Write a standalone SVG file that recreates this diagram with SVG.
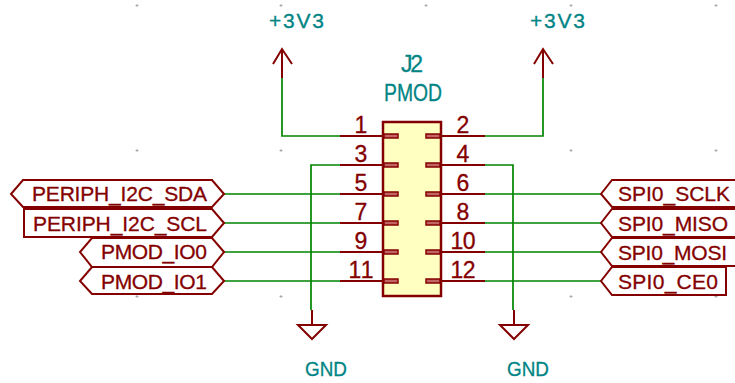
<svg xmlns="http://www.w3.org/2000/svg" width="735" height="383" viewBox="0 0 735 383">
<style>
text{font-family:"Liberation Sans",sans-serif;font-size:21px;stroke-width:.3}
.t{fill:#008484;stroke:#008484}
.n{fill:#840000;stroke:#840000;font-size:23px;text-anchor:middle}
.l{fill:#840000;stroke:#840000;font-size:21px}
.s{fill:none;stroke:#840000;stroke-width:2}
.h{fill:#fff;stroke:#840000;stroke-width:2}
.w{fill:none;stroke:#008400;stroke-width:1.700}
.g{stroke:#aaa;stroke-width:1;fill:none}
</style>
<g id="grid">
<path class="g" d="M135.500 5.500h3M137 4v3M279.500 5.500h3M281 4v3M424.500 5.500h3M426 4v3M569.500 5.500h3M571 4v3M714.500 5.500h3M716 4v3M135.500 150.500h3M137 149v3M279.500 150.500h3M281 149v3M569.500 150.500h3M571 149v3M714.500 150.500h3M716 149v3M135.500 296.500h3M137 295v3M279.500 296.500h3M281 295v3M569.500 296.500h3M571 295v3M714.500 296.500h3M716 295v3"/>
</g>
<g id="connectors">
<path class="w" d="M340 136H282V78M485 136H543V78M340 165H311V310M485 165H513V310"/>
<path class="w" d="M224 194H340M224 223H340M224 252H340M224 281H340M485 194H601M485 223H601M485 252H601M485 281H601"/>
</g>
<g id="J2">
<rect x="383" y="122" width="58" height="174" fill="#ffffc2" stroke="#840000" stroke-width="2.500"/>
<path class="s" d="M340 136H383M340 165H383M340 194H383M340 223H383M340 252H383M340 281H383M441 136H485M441 165H485M441 194H485M441 223H485M441 252H485M441 281H485"/>
<g fill="#c26464" stroke="#840000" stroke-width="1.500">
<rect x="384" y="134" width="14" height="4"/><rect x="384" y="163" width="14" height="4"/><rect x="384" y="192" width="14" height="4"/><rect x="384" y="221" width="14" height="4"/><rect x="384" y="250" width="14" height="4"/><rect x="384" y="279" width="14" height="4"/>
<rect x="426" y="134" width="14" height="4"/><rect x="426" y="163" width="14" height="4"/><rect x="426" y="192" width="14" height="4"/><rect x="426" y="221" width="14" height="4"/><rect x="426" y="250" width="14" height="4"/><rect x="426" y="279" width="14" height="4"/>
</g>
<text class="t" x="401" y="72" style="font-size:23px" textLength="22">J2</text>
<text class="t" x="384" y="101" style="font-size:23px" textLength="58" lengthAdjust="spacingAndGlyphs">PMOD</text>
<text class="n" x="361" y="133">1</text><text class="n" x="361" y="162">3</text><text class="n" x="361" y="191">5</text><text class="n" x="361" y="220">7</text><text class="n" x="361" y="249">9</text><text class="n" x="361" y="278" textLength="25">11</text>
<text class="n" x="463" y="133">2</text><text class="n" x="463" y="162">4</text><text class="n" x="463" y="191">6</text><text class="n" x="463" y="220">8</text><text class="n" x="463" y="249" textLength="25">10</text><text class="n" x="463" y="278" textLength="25">12</text>
</g>
<g id="pwr1"><path class="s" d="M282 78V49M273 64L282 49L292 64"/><text class="t" x="269" y="28" textLength="55">+3V3</text></g>
<g id="pwr2"><path class="s" d="M543 78V49M534 64L543 49L553 64"/><text class="t" x="530" y="28" textLength="55">+3V3</text></g>
<g id="gnd1"><path class="s" d="M312 310V325M298 325H326L312 339Z"/><text class="t" x="305" y="376" textLength="42" lengthAdjust="spacingAndGlyphs">GND</text></g>
<g id="gnd2"><path class="s" d="M514 310V325M500 325H528L514 339Z"/><text class="t" x="507" y="376" textLength="42" lengthAdjust="spacingAndGlyphs">GND</text></g>
<g id="lbl-sda"><path class="h" d="M224 194L212 180H23L11 194L23 207H212Z"/><text class="l" x="32" y="201" textLength="175">PERIPH_I2C_SDA</text></g>
<g id="lbl-scl"><path class="h" d="M224 223L212 209H24V237H212Z"/><text class="l" x="33" y="230.500" textLength="174">PERIPH_I2C_SCL</text></g>
<g id="lbl-io0"><path class="h" d="M224 252L212 238H92L80 252L92 267H212Z"/><text class="l" x="101" y="259" textLength="106">PMOD_IO0</text></g>
<g id="lbl-io1"><path class="h" d="M224 281L212 267H92L80 281L92 294H212Z"/><text class="l" x="101" y="288.500" textLength="106">PMOD_IO1</text></g>
<g id="lbl-sclk"><path class="h" d="M601 194L612 180H740V207H612Z"/><text class="l" x="618" y="201" textLength="112">SPI0_SCLK</text></g>
<g id="lbl-miso"><path class="h" d="M601 223L612 209H740V237H612Z"/><text class="l" x="618" y="230.500" textLength="110">SPI0_MISO</text></g>
<g id="lbl-mosi"><path class="h" d="M601 252L612 238H740V266H612Z"/><text class="l" x="618" y="259.500" textLength="109">SPI0_MOSI</text></g>
<g id="lbl-ce0"><path class="h" d="M601 281L612 267H726V295H612Z"/><text class="l" x="618" y="288.500" textLength="100">SPI0_CE0</text></g>
</svg>
